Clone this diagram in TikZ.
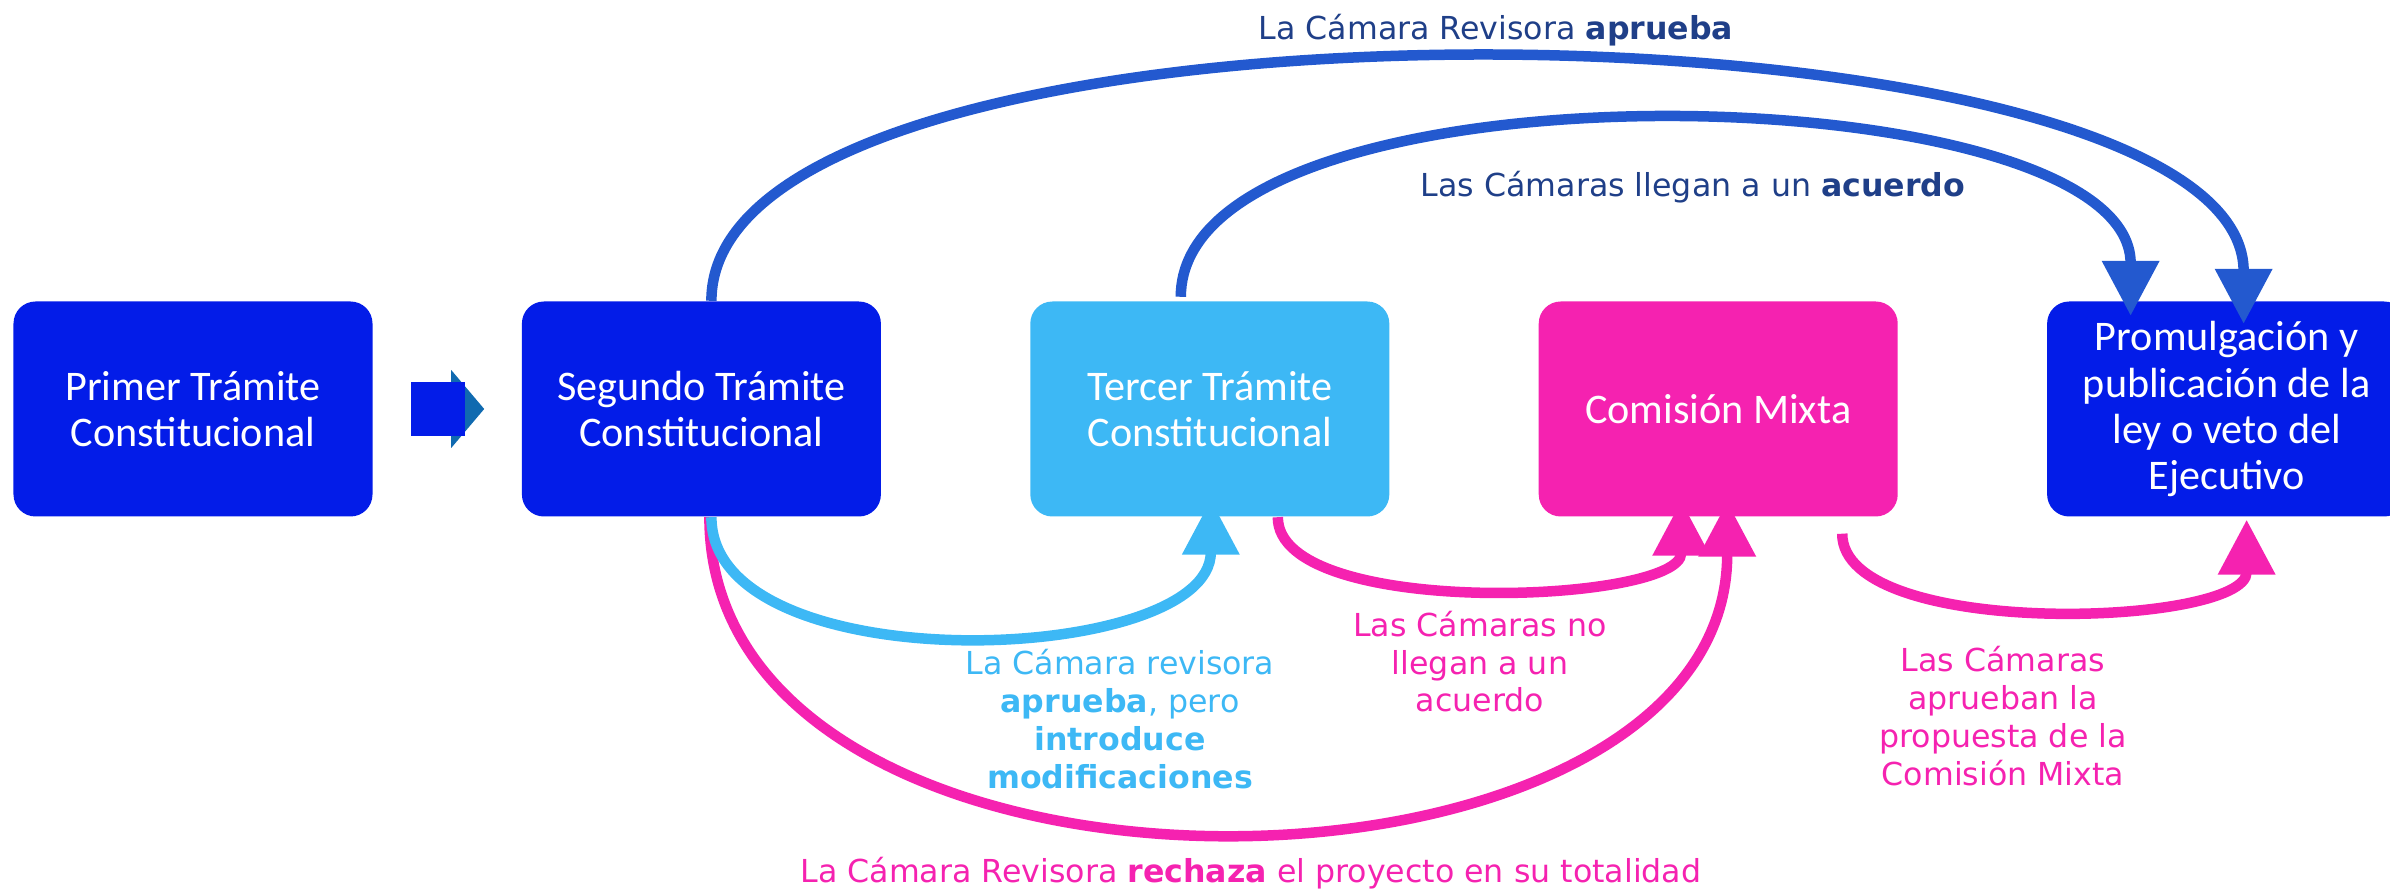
\documentclass[tikz,border=0pt]{standalone}
\usepackage{fontspec}
\setmainfont{DejaVu Sans}
\newfontfamily\cajafont{Carlito}
\usetikzlibrary{positioning,calc,arrows.meta}
\definecolor{azul}{RGB}{3,28,232}
\definecolor{celeste}{RGB}{61,184,245}
\definecolor{rosa}{RGB}{245,34,176}
\definecolor{azularco}{RGB}{35,89,207}
\definecolor{marino}{RGB}{31,63,136}
\definecolor{petroleo}{RGB}{16,106,176}

\begin{document}
\begin{tikzpicture}[
  tramite/.style={rectangle, rounded corners=2.2mm, minimum width=3.59cm, minimum height=2.15cm,
    inner sep=0pt, align=center, text=white, font=\cajafont\fontsize{12}{13.1}\selectfont},
  flecha/.style={line width=1.05mm, -{Triangle[length=5.5mm,width=5.5mm]}},
  rotulo/.style={align=center, anchor=base, font=\fontsize{9}{10.8}\selectfont},
  node distance=1.48cm
]
% canvas
\useasboundingbox (0,0) rectangle (23.9,-8.9);

\node[tramite, fill=azul] (p1) at (1.93,-4.09) {Primer Trámite\\Constitucional};
\node[tramite, fill=azul, right=of p1] (p2) {Segundo Trámite\\Constitucional};
\node[tramite, fill=celeste, right=of p2] (p3) {Tercer Trámite\\Constitucional};
\node[tramite, fill=rosa, right=of p3] (p4) {Comisión Mixta};
\node[tramite, fill=azul, right=of p4] (p5) {Promulgación y\\publicación de la\\ley o veto del\\Ejecutivo};

\fill[petroleo] ($(p1.east)+(0.78,0.39)$) -- ($(p1.east)+(1.11,0)$) -- ($(p1.east)+(0.78,-0.39)$) -- cycle;
\fill[azul] ($(p1.east)+(0.38,0.27)$) rectangle ($(p1.east)+(0.92,-0.27)$);

\draw[flecha, azularco] ([xshift=1mm]p2.north) .. controls +(0,3.35) and +(0,3.35) .. ([shift={(1.7mm,-2.3mm)}]p5.north);
\draw[flecha, azularco] ([shift={(-2.9mm,0.4mm)}]p3.north) .. controls +(0,2.45) and +(0,2.45) .. ([shift={(-9.6mm,-1.5mm)}]p5.north);
\draw[flecha, rosa] ([xshift=0.8mm]p2.south) .. controls +(0,-4.27) and +(0,-4.27) .. ([shift={(0.9mm,1.55mm)}]p4.south);
\draw[flecha, celeste] ([xshift=1mm]p2.south) .. controls +(0,-1.67) and +(0,-1.67) .. ([shift={(0.1mm,1.75mm)}]p3.south);
\draw[flecha, rosa] ([xshift=6.8mm]p3.south) .. controls +(0,-1.03) and +(0,-1.03) .. ([shift={(-3.7mm,1.65mm)}]p4.south);
\draw[flecha, rosa] ([shift={(12.4mm,-1.65mm)}]p4.south) .. controls +(0,-1.07) and +(0,-1.07) .. ([shift={(2mm,-0.25mm)}]p5.south);

\node[rotulo, text=marino] (aprueba) at (14.96,-0.40) {La Cámara Revisora \textbf{aprueba}};
\node[rotulo, text=marino] (acuerdo) at (16.93,-1.97) {Las Cámaras llegan a un \textbf{acuerdo}};
\node[rotulo, text=celeste] (modif) at (11.20,-7.88) {La Cámara revisora\\\textbf{aprueba}, pero\\\textbf{introduce}\\\textbf{modificaciones}};
\node[rotulo, text=rosa] (noacuerdo) at (14.80,-7.12) {Las Cámaras no\\llegan a un\\acuerdo};
\node[rotulo, text=rosa] (propuesta) at (20.03,-7.85) {Las Cámaras\\aprueban la\\propuesta de la\\Comisión Mixta};
\node[rotulo, text=rosa] (rechaza) at (12.51,-8.83) {La Cámara Revisora \textbf{rechaza} el proyecto en su totalidad};

\end{tikzpicture}
\end{document}
